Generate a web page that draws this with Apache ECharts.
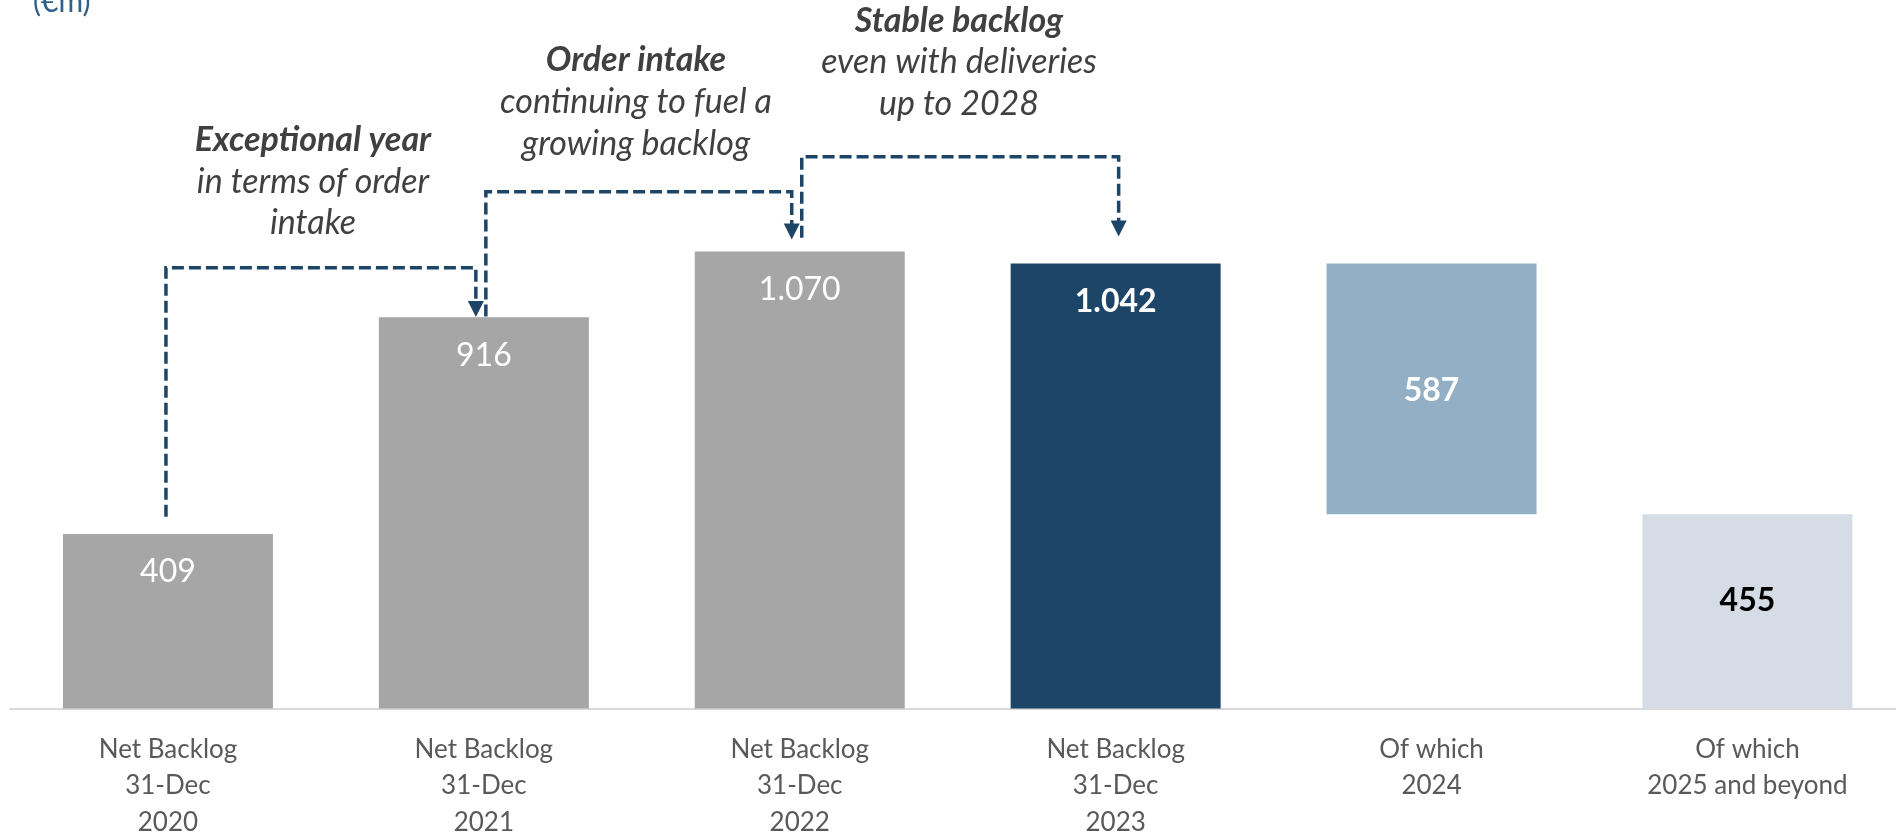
<!DOCTYPE html>
<html>
<head>
<meta charset="utf-8">
<script src="https://cdn.jsdelivr.net/npm/echarts@6/dist/echarts.min.js"></script>
<style>
html,body{margin:0;padding:0;background:#fff;}
#chart{width:1896px;height:833px;}
</style>
</head>
<body>
<div id="chart"></div>
<script>
// ---- data ----
const categories = [
  'Net Backlog\n31-Dec\n2020',
  'Net Backlog\n31-Dec\n2021',
  'Net Backlog\n31-Dec\n2022',
  'Net Backlog\n31-Dec\n2023',
  'Of which\n2024',
  'Of which\n2025 and beyond'
];
const values = [409, 916, 1070, 1042, 587, 455];
const bases = [0, 0, 0, 0, 455, 0];
const valueLabels = ['409', '916', '1.070', '1.042', '587', '455'];
const unitLabel = '(€m)';
// annotation connectors: from bar -> to bar, start/end/level in value units
const connFrom = [0, 1, 2];
const connTo = [1, 2, 3];
const connStart = [449, 918, 1102];
const connLevel = [1032, 1210, 1292];
const connEnd = [917, 1098, 1105];
const noteTitles = ['Exceptional year', 'Order intake', 'Stable backlog'];
const noteLines = [['in terms of order', 'intake'], ['continuing to fuel a', 'growing backlog'], ['even with deliveries', 'up to 2028']];

// ---- styles ----
const barColors = ['#A6A6A6', '#A6A6A6', '#A6A6A6', '#1D4568', '#92AFC5', '#D6DCE5'];
const labelColors = ['#fff', '#fff', '#fff', '#fff', '#fff', '#000'];
const labelBold = [false, false, false, true, true, true];
const labelPos = ['insideTop', 'insideTop', 'insideTop', 'insideTop', 'inside', 'inside'];
const labelOffset = [[0, 0], [0, 0], [0, 0], [0, 0], [0, 2], [0, -11]];
const FONT = 'Lato, "Open Sans", sans-serif';
const DARK = '#1D4568';

const chart = echarts.init(document.getElementById('chart'));
chart.setOption({
  animation: false,
  grid: { left: 10, top: 196, width: 1895.4, height: 512.6, containLabel: false, outerBoundsMode: 'none' },
  xAxis: {
    type: 'category',
    data: categories,
    axisLine: { show: true, lineStyle: { color: '#D9D9D9', width: 2 } },
    axisTick: { show: false },
    axisLabel: { color: '#595959', fontFamily: FONT, fontSize: 26, lineHeight: 36.5, margin: 22.5, interval: 0 }
  },
  yAxis: { type: 'value', min: 0, max: 1200, show: false, splitLine: { show: false } },
  series: [
    {
      type: 'bar', stack: 'w', barWidth: 210,
      itemStyle: { color: 'transparent' },
      data: bases, silent: true
    },
    {
      type: 'bar', stack: 'w', barWidth: 210,
      data: values.map((v, i) => ({
        value: v,
        itemStyle: { color: barColors[i] },
        label: {
          show: true,
          position: labelPos[i],
          distance: 22,
          offset: labelOffset[i],
          formatter: () => valueLabels[i],
          color: labelColors[i],
          fontFamily: FONT,
          fontSize: 32,
          fontWeight: labelBold[i] ? 'bold' : 'normal'
        }
      }))
    }
  ]
});

function px(cat, val) { return chart.convertToPixel({ gridIndex: 0 }, [cat, val]); }

const graphics = [];
graphics.push({
  type: 'text', left: 33, top: -13,
  style: { text: unitLabel, fill: '#2E5E8A', font: '30px ' + FONT }
});

const dxFrom = [-2, 2, 2];
const dxTo = [-8, -8, 3];
connFrom.forEach((f, i) => {
  const p0 = px(f, connStart[i]);
  const pl = px(f, connLevel[i]);
  const pt = px(connTo[i], connLevel[i]);
  const pe = px(connTo[i], connEnd[i]);
  const x0 = p0[0] + dxFrom[i];
  const x1 = pt[0] + dxTo[i];
  const tipY = pe[1];
  graphics.push({
    type: 'polyline',
    shape: { points: [[x0, p0[1]], [x0, pl[1]], [x1, pl[1]], [x1, tipY - 14]] },
    style: { stroke: DARK, lineWidth: 3.5, lineDash: [12, 5], fill: null }
  });
  graphics.push({
    type: 'polygon',
    shape: { points: [[x1 - 8, tipY - 16], [x1 + 8, tipY - 16], [x1, tipY]] },
    style: { fill: DARK }
  });
});

const noteX = [313, 636, 959];
const noteY = [140, 60.5, 20.6];
const noteGap = 41.7;
noteTitles.forEach((t, i) => {
  graphics.push({
    type: 'text', x: noteX[i], y: noteY[i],
    style: { text: t, fill: '#404040', font: 'italic bold 34px ' + FONT, align: 'center', verticalAlign: 'middle' }
  });
  noteLines[i].forEach((l, j) => {
    graphics.push({
      type: 'text', x: noteX[i], y: noteY[i] + noteGap * (j + 1),
      style: { text: l, fill: '#404040', font: 'italic 34px ' + FONT, align: 'center', verticalAlign: 'middle' }
    });
  });
});

chart.setOption({ graphic: graphics });
</script>
</body>
</html>
